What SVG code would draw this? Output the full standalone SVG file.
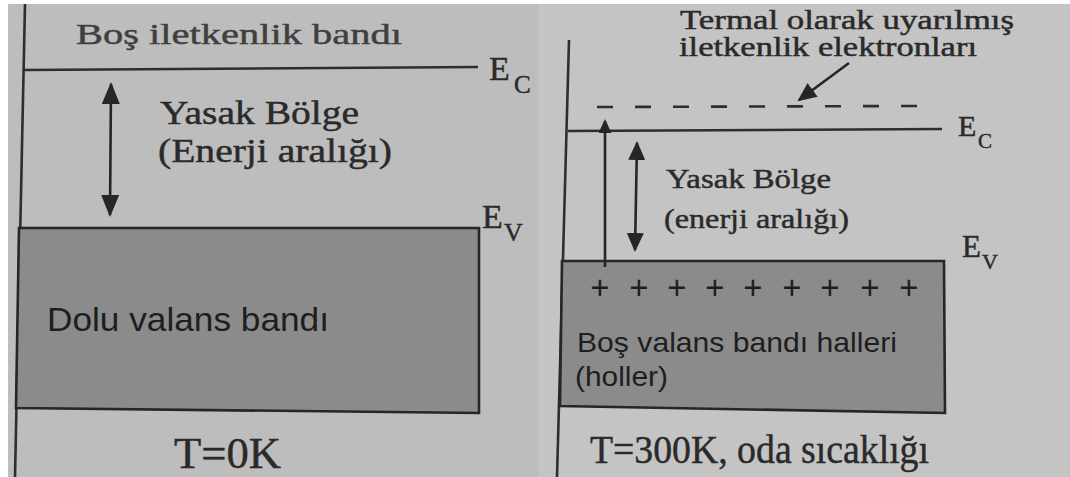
<svg xmlns="http://www.w3.org/2000/svg" width="1070" height="477" viewBox="0 0 1070 477">
<style>
.ser{font-family:"Liberation Serif","Times New Roman",serif;fill:#2a2a2a;stroke:#2a2a2a;stroke-width:0.45}
.san{font-family:"Liberation Sans",Arial,sans-serif;fill:#1e1e1e}
.ln{stroke:#2e2e2e;stroke-width:2.6;fill:none}
.band{fill:#8b8b8b;stroke:#262626;stroke-width:2.6}
.arr{stroke:#262626;stroke-width:2.6;fill:none}
</style>
<defs>
<marker id="headL" markerUnits="userSpaceOnUse" markerWidth="22" markerHeight="18" refX="20" refY="9" orient="auto-start-reverse"><path d="M0,0 L22,9 L0,18 z" fill="#262626"/></marker>
<marker id="headM" markerUnits="userSpaceOnUse" markerWidth="19" markerHeight="17" refX="17" refY="8.5" orient="auto-start-reverse"><path d="M0,0 L19,8.5 L0,17 z" fill="#262626"/></marker>
<marker id="headS" markerUnits="userSpaceOnUse" markerWidth="14" markerHeight="13" refX="12" refY="6.5" orient="auto-start-reverse"><path d="M0,0 L14,6.5 L0,13 z" fill="#262626"/></marker>
</defs>
<rect x="0" y="0" width="1070" height="477" fill="#ffffff"/>
<rect x="8" y="4" width="530" height="473" fill="#bdbdbd"/>
<rect x="538" y="4" width="532" height="473" fill="#c4c4c4"/>

<g id="left-panel">
  <line class="ln" x1="25" y1="4" x2="15" y2="477"/>
  <g id="left-conduction">
    <text class="ser" x="76" y="44" font-size="30" textLength="326" lengthAdjust="spacingAndGlyphs" opacity="0.85">Boş iletkenlik bandı</text>
    <line class="ln" x1="24" y1="70" x2="478" y2="67"/>
    <text class="ser" x="489" y="80" font-size="34">E<tspan x="514" y="93" font-size="25">C</tspan></text>
  </g>
  <g id="left-gap-label">
    <text class="ser" x="160" y="124" font-size="34" textLength="199" lengthAdjust="spacingAndGlyphs">Yasak Bölge</text>
    <text class="ser" x="158" y="162" font-size="34" textLength="234" lengthAdjust="spacingAndGlyphs">(Enerji aralığı)</text>
  </g>
  <g id="left-valence">
    <text class="ser" x="482" y="228" font-size="34">E<tspan x="504" y="241" font-size="26">V</tspan></text>
    <polygon class="band" points="19,228 479,228 479,413 16,408"/>
    <text class="san" x="47" y="331" font-size="34" textLength="282" lengthAdjust="spacingAndGlyphs">Dolu valans bandı</text>
  </g>
  <text id="left-temp" class="ser" x="174" y="468" font-size="44" textLength="107" lengthAdjust="spacingAndGlyphs">T=0K</text>
</g>

<g id="right-panel">
  <line class="ln" x1="569" y1="40" x2="557" y2="477"/>
  <g id="thermal-electrons">
    <text class="ser" x="680" y="29" font-size="27" textLength="334" lengthAdjust="spacingAndGlyphs">Termal olarak uyarılmış</text>
    <text class="ser" x="679" y="56" font-size="27" textLength="298" lengthAdjust="spacingAndGlyphs">iletkenlik elektronları</text>
    <line class="ln" x1="597" y1="107" x2="918" y2="106" stroke-dasharray="16 22"/>
  </g>
  <g id="right-conduction">
    <line class="ln" x1="568" y1="131" x2="942" y2="129"/>
    <text class="ser" x="958" y="136" font-size="30">E<tspan x="978" y="148" font-size="21">C</tspan></text>
  </g>
  <g id="right-gap-label">
    <text class="ser" x="666" y="188" font-size="28" textLength="165" lengthAdjust="spacingAndGlyphs">Yasak Bölge</text>
    <text class="ser" x="664" y="228" font-size="28" textLength="185" lengthAdjust="spacingAndGlyphs">(enerji aralığı)</text>
  </g>
  <g id="right-valence">
    <text class="ser" x="962" y="257" font-size="31">E<tspan x="982" y="269" font-size="22">V</tspan></text>
    <polygon class="band" points="562,261 944,261 945,413 560,406"/>
    <text class="san" x="600 639 677 715 753 792 830 870 909" y="299" font-size="33" text-anchor="middle">+++++++++</text>
    <text class="san" x="577" y="352" font-size="28" textLength="320" lengthAdjust="spacingAndGlyphs">Boş valans bandı halleri</text>
    <text class="san" x="575" y="386" font-size="28" textLength="93" lengthAdjust="spacingAndGlyphs">(holler)</text>
  </g>
  <text id="right-temp" class="ser" x="590" y="463" font-size="40" textLength="339" lengthAdjust="spacingAndGlyphs">T=300K, oda sıcaklığı</text>
</g>

<g id="connectors">
  <line class="arr" x1="111" y1="84" x2="110" y2="215" marker-start="url(#headL)" marker-end="url(#headL)"/>
  <line class="arr" x1="637" y1="143" x2="635" y2="250" marker-start="url(#headM)" marker-end="url(#headM)"/>
  <line class="arr" x1="605" y1="267" x2="605" y2="121" marker-end="url(#headS)"/>
  <line class="arr" x1="849" y1="63" x2="799" y2="100" marker-end="url(#headM)"/>
</g>
</svg>
